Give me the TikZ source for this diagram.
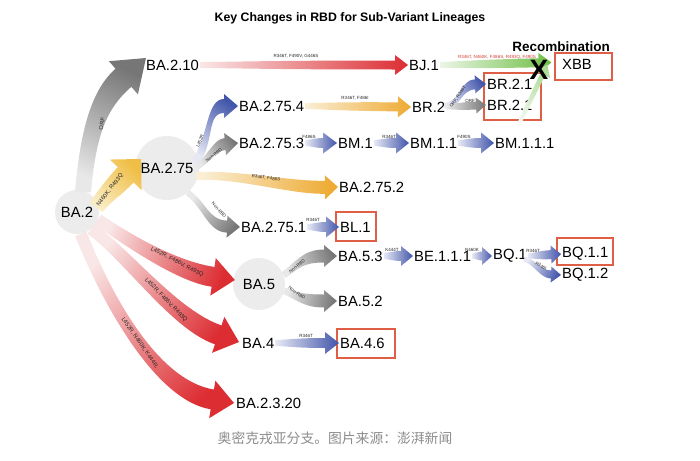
\documentclass[tikz,border=0pt]{standalone}
\usepackage{fontspec}
\setmainfont{Liberation Sans}
\newfontfamily\cjk{Noto Sans CJK SC}
\usetikzlibrary{calc,fit}

\definecolor{hubgray}{RGB}{236,236,236}
\definecolor{grayA}{RGB}{232,232,232}
\definecolor{grayB}{RGB}{118,118,118}
\definecolor{redA}{RGB}{249,230,230}
\definecolor{redB}{RGB}{220,45,50}
\definecolor{blueA}{RGB}{230,232,244}
\definecolor{blueB}{RGB}{65,85,170}
\definecolor{orgA}{RGB}{250,238,212}
\definecolor{orgB}{RGB}{238,170,50}
\definecolor{yelA}{RGB}{250,236,195}
\definecolor{yelB}{RGB}{240,190,70}
\definecolor{grnA}{RGB}{236,246,230}
\definecolor{grnB}{RGB}{110,190,70}
\definecolor{boxred}{RGB}{222,95,70}
\definecolor{capgray}{RGB}{140,140,140}
\definecolor{mutred}{RGB}{210,60,50}

% sizes of the fat arrows
\tikzset{
  tail/.store in=\fatt, shaft/.store in=\fatw,
  head/.store in=\fath, headlen/.store in=\fatl,
  tail=3pt, shaft=5pt, head=10pt, headlen=13pt
}

% fat shaded arrow: [sizes]{shading}{from}{c1}{c2}{tip}
\newcommand\fatarrow[6][]{%
  \begin{scope}[#1]
    \coordinate (fa0) at (#3);
    \coordinate (fa1) at (#4);
    \coordinate (fa2) at (#5);
    \coordinate (fat) at (#6);
    \coordinate (fa3) at ($(fat)!\fatl!(fa2)$);
    \coordinate (fa0l) at ($(fa0)!\fatt!90:(fa1)$);
    \coordinate (fa0r) at ($(fa0)!\fatt!-90:(fa1)$);
    \coordinate (fa1l) at ($(fa1)+(fa0l)-(fa0)$);
    \coordinate (fa1r) at ($(fa1)+(fa0r)-(fa0)$);
    \coordinate (fa3l) at ($(fa3)!\fatw!-90:(fa2)$);
    \coordinate (fa3r) at ($(fa3)!\fatw!90:(fa2)$);
    \coordinate (fa2l) at ($(fa2)+(fa3l)-(fa3)$);
    \coordinate (fa2r) at ($(fa2)+(fa3r)-(fa3)$);
    \coordinate (fahl) at ($(fa3)!\fath!-90:(fa2)$);
    \coordinate (fahr) at ($(fa3)!\fath!90:(fa2)$);
    \shade[#2] (fa0l) .. controls (fa1l) and (fa2l) .. (fa3l) -- (fahl)
      -- (fat) -- (fahr) -- (fa3r) .. controls (fa2r) and (fa1r) .. (fa0r) -- cycle;
  \end{scope}}
% straight one between two anchors
\newcommand\flatarrow[4][]{%
  \fatarrow[#1]{#2}{#3}{$(#3)!0.15!(#4)$}{$(#3)!0.3!(#4)$}{#4}}

\begin{document}
\begin{tikzpicture}[x=1pt, y=-1pt,
  ttl/.style={inner sep=0pt, font=\bfseries\fontsize{12.3}{12.3}\selectfont},
  hub/.style={circle, fill=hubgray, inner sep=0pt, font=\fontsize{14.8}{14.8}\selectfont},
  lin/.style={anchor=west, inner sep=1pt, font=\fontsize{14.8}{14.8}\selectfont},
  redbox/.style={draw=boxred, line width=1.1pt, inner sep=0pt},
  mut/.style={inner sep=0pt, text=black!85, font=\fontsize{4.5}{4.5}\selectfont},
  bigmut/.style={inner sep=0pt, text=black!85, font=\fontsize{5.8}{5.8}\selectfont},
  grayarr/.style={left color=grayA, right color=grayB},
  redarr/.style={left color=redA, right color=redB},
  bluearr/.style={left color=blueA, right color=blueB},
  orgarr/.style={left color=orgA, right color=orgB},
  yelarr/.style={left color=yelA, right color=yelB},
  grnarr/.style={left color=grnA, right color=grnB}
]
\useasboundingbox (0,0) rectangle (700,460);

\node[ttl] (title) at (350,18) {Key Changes in RBD for Sub-Variant Lineages};

% hubs
\node[hub, minimum size=44pt] (ba2) at (77,212) {BA.2};
\node[hub, minimum size=64pt] (ba275) at (167,168) {BA.2.75};
\node[hub, minimum size=52pt] (ba5) at (259,284) {BA.5};

% lineages
\node[lin] (ba210) at (145,65) {BA.2.10};
\node[lin] (bj1) at (408,65) {BJ.1};
\node[lin] (xbb) at (561,64) {XBB};
\node[lin] (br21a) at (486,84) {BR.2.1};
\node[lin] (br21b) at (486,105) {BR.2.1};
\node[lin] (ba2754) at (238,106) {BA.2.75.4};
\node[lin] (br2) at (411,107) {BR.2};
\node[lin] (ba2753) at (238,143) {BA.2.75.3};
\node[lin] (bm1) at (337,143) {BM.1};
\node[lin] (bm11) at (409,143) {BM.1.1};
\node[lin] (bm111) at (494,143) {BM.1.1.1};
\node[lin] (ba2752) at (338,187) {BA.2.75.2};
\node[lin] (ba2751) at (240,227) {BA.2.75.1};
\node[lin] (bl1) at (339,227) {BL.1};
\node[lin] (ba53) at (337,256) {BA.5.3};
\node[lin] (be111) at (413,256) {BE.1.1.1};
\node[lin] (bq1) at (492,256) {BQ.1};
\node[lin] (bq11) at (561,254) {BQ.1.1};
\node[lin] (bq12) at (561,275) {BQ.1.2};
\node[lin] (ba52) at (337,301) {BA.5.2};
\node[lin] (ba4) at (241,343) {BA.4};
\node[lin] (ba46) at (339,343) {BA.4.6};
\node[lin] (ba2320) at (235,403) {BA.2.3.20};

% boxes
\node[redbox, fit={(555,53) (612,80)}] (xbbbox) {};
\node[redbox, fit={(484,73) (541,120)}] (br21box) {};
\node[redbox, fit={(336,212) (376,241)}] (bl1box) {};
\node[redbox, fit={(557,238) (613,265)}] (bq11box) {};
\node[redbox, fit={(337,329) (395,358)}] (ba46box) {};

% from BA.2
\fatarrow[tail=8pt,shaft=12pt,head=22pt,headlen=30pt]{grayarr,shading angle=155}
  {$(ba2.north)+(6,2)$}{88,135}{98,100}{146,58}
\fatarrow[tail=8pt,shaft=11pt,head=22pt,headlen=22pt]{yelarr,shading angle=134}
  {$(ba2.east)+(-3,-5)$}{103,198}{113,188}{141,159}
\fatarrow[tail=6pt,shaft=10pt,head=19pt,headlen=22pt]{redarr,shading angle=68}
  {ba2.-20}{135,245}{180,272}{$(ba5.west)+(2,-4)$}
\fatarrow[tail=6pt,shaft=10pt,head=19pt,headlen=22pt]{redarr,shading angle=52}
  {ba2.-50}{130,258}{175,320}{$(ba4.west)+(-2,-1)$}
\fatarrow[tail=6pt,shaft=10pt,head=19pt,headlen=22pt]{redarr,shading angle=43}
  {ba2.-80}{105,295}{155,390}{$(ba2320.west)+(-1,0)$}

% from BA.2.75
\fatarrow[tail=4pt,shaft=7pt,head=12pt,headlen=14pt]{bluearr,shading angle=144}
  {$(ba275.east)+(-4,-6)$}{212,140}{206,106}{ba2754.west}
\fatarrow[tail=3pt,shaft=6pt,head=11pt,headlen=13pt]{grayarr,shading angle=121}
  {$(ba275.east)+(-2,-1)$}{210,158}{214,145}{ba2753.west}
\fatarrow[tail=4pt,shaft=6.5pt,head=12pt,headlen=13pt]{orgarr,shading angle=84}
  {$(ba275.east)+(-3,8)$}{240,174}{290,188}{ba2752.west}
\fatarrow[tail=3pt,shaft=6pt,head=11pt,headlen=13pt]{grayarr,shading angle=53}
  {ba275.-50}{205,205}{208,226}{ba2751.west}

% from BA.5
\fatarrow[tail=3.5pt,shaft=6.5pt,head=11pt,headlen=13pt]{grayarr,shading angle=110}
  {ba5.20}{298,265}{303,256}{ba53.west}
\fatarrow[tail=3.5pt,shaft=6.5pt,head=11pt,headlen=13pt]{grayarr,shading angle=77}
  {ba5.-15}{298,296}{303,301}{ba52.west}

% straight steps
\flatarrow[tail=3pt,shaft=4.5pt,head=10pt,headlen=13pt]{redarr}{ba210.east}{bj1.west}
\coordinate (xbbin) at ($(xbbbox.west)+(-3,-4)$);
\flatarrow[tail=3pt,shaft=4.5pt,head=10pt,headlen=13pt]{grnarr}{bj1.east}{xbbin}
\coordinate (bm111up) at ($(bm111.north)+(-12,0)$);
\coordinate (xbbin2) at ($(xbbbox.west)+(-7,-2)$);
\flatarrow[tail=1.5pt,shaft=2.5pt,head=8pt,headlen=11pt]{left color=white, right color=grnB!55!white,shading angle=152}{bm111up}{xbbin2}
\flatarrow[tail=3pt,shaft=4.5pt,head=10.5pt,headlen=13pt]{orgarr}{ba2754.east}{br2.west}
\fatarrow[tail=3pt,shaft=5pt,head=9pt,headlen=11pt]{bluearr,shading angle=120}
  {$(br2.east)+(-2,-1)$}{462,104}{460,85}{br21a.west}
\flatarrow[tail=2.5pt,shaft=4pt,head=8pt,headlen=10pt]{grayarr}{br2.east}{br21b.west}
\flatarrow[tail=3pt,shaft=5pt,head=10.5pt,headlen=14pt]{bluearr}{ba2753.east}{bm1.west}
\flatarrow[tail=3pt,shaft=5pt,head=10.5pt,headlen=13pt]{bluearr}{bm1.east}{bm11.west}
\flatarrow[tail=3pt,shaft=5pt,head=10.5pt,headlen=13pt]{bluearr}{bm11.east}{bm111.west}
\flatarrow[tail=3pt,shaft=5pt,head=10.5pt,headlen=13pt]{bluearr}{ba2751.east}{bl1.west}
\flatarrow[tail=3pt,shaft=5pt,head=10pt,headlen=12pt]{bluearr}{ba53.east}{be111.west}
\flatarrow[tail=2.5pt,shaft=4.5pt,head=9pt,headlen=10pt]{bluearr}{be111.east}{bq1.west}
\flatarrow[tail=2.5pt,shaft=4.5pt,head=9pt,headlen=10pt]{bluearr}{bq1.east}{bq11.west}
\fatarrow[tail=2.5pt,shaft=4pt,head=8pt,headlen=10pt]{bluearr,shading angle=69}
  {$(bq1.east)+(-4,3)$}{535,262}{540,274}{bq12.west}
\flatarrow[tail=3pt,shaft=5pt,head=11pt,headlen=14pt]{bluearr}{ba4.east}{ba46.west}

% mutations
\node[bigmut, rotate=78] (l210) at (102,124) {ORF};
\node[bigmut, rotate=52] (l275) at (110,190) {N460K, R493Q};
\node[bigmut, rotate=-27] (l5) at (177,262) {L452R, F486V, R493Q};
\node[bigmut, rotate=-46] (l4) at (166,300) {L452R, F486V, R493Q};
\node[bigmut, rotate=-55] (l2320) at (140,343) {L452R, N460K, K444R,};
\node[mut] (lbj) at (296,56) {R346T, F490V, G446S};
\node[mut, text=mutred] (lxbb) at (497,57) {R346T, N460K, F486S, R493Q, F490S};
\node[mut, rotate=68] (l2754) at (200,141) {L452R};
\node[mut, rotate=38] (l2753) at (214,155) {Non-RBD};
\node[mut, rotate=-8] (l2752) at (266,178) {R346T, F486S};
\node[mut, rotate=-48] (l2751) at (219,210) {Non-RBD};
\node[mut] (lbr2) at (355,98) {R346T, F486I};
\node[mut, rotate=55] (lbr21a) at (458,97) {ORF, R346T};
\node[mut] (lbr21b) at (470,101) {ORF};
\node[mut] (lbm1) at (309,137) {F486S};
\node[mut] (lbm11) at (389,137) {R346T};
\node[mut] (lbm111) at (464,137) {F490S};
\node[mut] (lbl1) at (313,220) {R346T};
\node[mut, rotate=40] (l53) at (297,266) {Non-RBD};
\node[mut, rotate=-35] (l52) at (297,293) {Non-RBD};
\node[mut] (lbe) at (392,250) {K444T};
\node[mut] (lbq1) at (472,250) {N460K};
\node[mut] (lbq11) at (533,251) {R346T};
\node[mut, rotate=-30] (lbq12) at (541,266) {R346I};
\node[mut] (lba46) at (306,336) {R346T};

% recombination
\node[inner sep=0pt, font=\bfseries\fontsize{13.5}{13.5}\selectfont] (recomb) at (561,47) {Recombination};
\node[inner sep=0pt, font=\bfseries\fontsize{28}{28}\selectfont] (cross) at (539,70) {X};

\node[inner sep=0pt, text=capgray, font=\cjk\fontsize{13.8}{13.8}\selectfont] (caption) at (335,438)
  {奥密克戎亚分支。图片来源：澎湃新闻};
\end{tikzpicture}
\end{document}
